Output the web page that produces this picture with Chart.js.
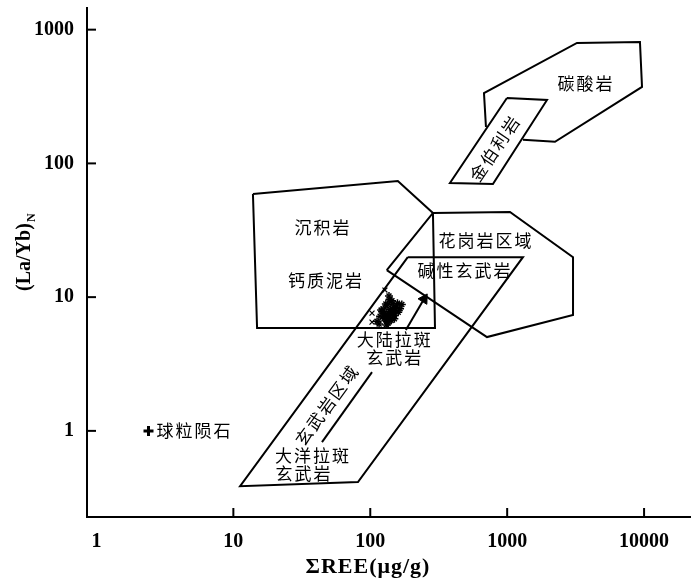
<!DOCTYPE html>
<html>
<head>
<meta charset="utf-8">
<script src="https://cdn.jsdelivr.net/npm/chart.js@4.4.0/dist/chart.umd.min.js"></script>
<style>
    html, body { margin: 0; padding: 0; background: #fff; }
    #wrap { width: 700px; height: 587px; }
</style>
</head>
<body>
<div id="wrap"><canvas id="myChart" width="700" height="587"></canvas></div>
<script>
// axis ticks
const xTicks = [1, 10, 100, 1000, 10000];
const yTicks = [1, 10, 100, 1000];

// field outlines (x = ΣREE, y = (La/Yb)N)
const carbonatiteX = [700, 677, 3235, 9330, 9660, 2234, 1304];
const carbonatiteY = [187, 336, 795, 809, 373, 145, 150];
const kimberliteX = [996, 1954, 787, 382, 996];
const kimberliteY = [308, 298, 70.2, 71.3, 308];
const sedimentX = [13.9, 159, 287, 297, 14.9, 13.9];
const sedimentY = [59.0, 73.9, 42.6, 5.87, 5.87, 59.0];
const graniteX = [132, 287, 1048, 3027, 3027, 712, 132];
const graniteY = [15.9, 42.6, 43.3, 19.9, 7.35, 5.03, 15.9];
const basaltX = [188, 1304, 81.3, 11.2, 188];
const basaltY = [19.9, 19.9, 0.414, 0.386, 19.9];
const innerLineX = [44.4, 103];
const innerLineY = [0.824, 2.75];
const arrowX = [182, 247];
const arrowY = [5.67, 9.68];

// samples
const sampleX = [118, 122, 126, 128, 130, 132, 134, 136, 138, 140, 142, 145, 148, 150, 152, 155, 158, 160,
                 126, 130, 134, 138, 142, 146, 150, 135, 140, 128, 144, 120, 112, 116, 165, 170, 137, 131];
const sampleY = [7.2, 7.8, 6.9, 8.3, 7.4, 6.6, 8.8, 7.6, 7.0, 8.1, 9.2, 7.5, 8.6, 6.9, 7.9, 8.4, 9.0, 7.7,
                 7.5, 8.9, 7.1, 9.6, 6.7, 8.0, 7.3, 6.4, 7.8, 7.0, 9.4, 8.0, 6.6, 6.3, 8.2, 8.8, 10.2, 6.2];
const sampleXmarkX = [103, 103, 128];
const sampleXmarkY = [7.6, 6.5, 11.3];
const chondriteX = [2.4];
const chondriteY = [1.0];

// field names
const labelText = ['碳酸岩', '金伯利岩', '沉积岩', '钙质泥岩', '花岗岩区域', '碱性玄武岩',
                   '大陆拉斑', '玄武岩', '玄武岩区域', '大洋拉斑', '玄武岩', '球粒陨石'];
const labelX = [3765, 815, 45.1, 47.5, 700, 492, 151, 151, 48.3, 38.1, 32.8, 2.75];
const labelY = [393, 130, 32.9, 13.2, 26.7, 15.9, 4.78, 3.56, 1.56, 0.659, 0.483, 1.0];
const labelAngle = [0, -56, 0, 0, 0, 0, 0, 0, -54, 0, 0, 0];
const labelAlign = ['center', 'center', 'center', 'center', 'center', 'center',
                    'center', 'center', 'center', 'center', 'center', 'left'];

function pts(xs, ys) {
    return xs.map((x, i) => ({ x: x, y: ys[i] }));
}

function outline(xs, ys) {
    return {
        data: pts(xs, ys),
        showLine: true,
        borderColor: '#000',
        borderWidth: 2,
        pointRadius: 0,
        fill: false,
        tension: 0,
        borderJoinStyle: 'miter'
    };
}

const cjkFont = '"Noto Sans CJK SC", "Noto Sans", sans-serif';
const serifFont = '"Liberation Serif", "DejaVu Serif", serif';

const decorPlugin = {
    id: 'decor',
    afterDraw(chart) {
        const ctx = chart.ctx;
        const xs = chart.scales.x;
        const ys = chart.scales.y;
        const area = chart.chartArea;
        ctx.save();
        ctx.strokeStyle = '#000';
        ctx.lineWidth = 2;
        // inward tick marks
        xTicks.forEach(v => {
            if (v === 1) return;
            const px = xs.getPixelForValue(v);
            ctx.beginPath();
            ctx.moveTo(px, area.bottom);
            ctx.lineTo(px, area.bottom - 9);
            ctx.stroke();
        });
        yTicks.forEach(v => {
            const py = ys.getPixelForValue(v);
            ctx.beginPath();
            ctx.moveTo(area.left, py);
            ctx.lineTo(area.left + 9, py);
            ctx.stroke();
        });

        // field labels
        ctx.fillStyle = '#000';
        ctx.font = '17px ' + cjkFont;
        ctx.textBaseline = 'middle';
        ctx.letterSpacing = '2px';
        labelText.forEach((t, i) => {
            const px = xs.getPixelForValue(labelX[i]);
            const py = ys.getPixelForValue(labelY[i]);
            ctx.save();
            ctx.translate(px, py);
            ctx.rotate(labelAngle[i] * Math.PI / 180);
            ctx.textAlign = labelAlign[i];
            ctx.fillText(t, 0, 0);
            ctx.restore();
        });

        // axis titles
        ctx.letterSpacing = '1px';
        ctx.font = 'bold 22px ' + serifFont;
        ctx.textAlign = 'center';
        ctx.textBaseline = 'middle';
        ctx.fillText('ΣREE(μg/g)', 368, 567);
        ctx.letterSpacing = '0px';

        ctx.save();
        ctx.font = 'bold 20px ' + serifFont;
        ctx.translate(25, 252);
        ctx.rotate(-Math.PI / 2);
        const main = '(La/Yb)';
        const w = ctx.measureText(main).width;
        ctx.textAlign = 'left';
        ctx.fillText(main, -w / 2 - 5, 0);
        ctx.font = 'bold 12px ' + serifFont;
        ctx.fillText('N', w / 2 - 4, 7);
        ctx.restore();

        ctx.restore();
    }
};

const ctx = document.getElementById('myChart').getContext('2d');
new Chart(ctx, {
    type: 'scatter',
    data: {
        datasets: [
            outline(carbonatiteX, carbonatiteY),
            outline(kimberliteX, kimberliteY),
            outline(sedimentX, sedimentY),
            outline(graniteX, graniteY),
            outline(basaltX, basaltY),
            outline(innerLineX, innerLineY),
            {
                data: pts(arrowX, arrowY),
                showLine: true,
                borderColor: '#000',
                borderWidth: 2,
                pointStyle: 'triangle',
                pointRadius: [0, 6],
                pointRotation: [0, 32],
                pointBackgroundColor: '#000',
                pointBorderColor: '#000',
                pointBorderWidth: 1
            },
            {
                data: pts(sampleX, sampleY),
                pointStyle: 'cross',
                pointRadius: 4,
                borderColor: '#000',
                borderWidth: 1.5
            },
            {
                data: pts(sampleX, sampleY),
                pointStyle: 'crossRot',
                pointRadius: 3.5,
                borderColor: '#000',
                borderWidth: 1.5
            },
            {
                data: pts(sampleXmarkX, sampleXmarkY),
                pointStyle: 'crossRot',
                pointRadius: 3.5,
                borderColor: '#000',
                borderWidth: 1.2
            },
            {
                data: pts(chondriteX, chondriteY),
                pointStyle: 'cross',
                pointRadius: 5,
                borderColor: '#000',
                borderWidth: 3
            }
        ]
    },
    options: {
        responsive: false,
        animation: false,
        devicePixelRatio: 1,
        layout: { padding: { top: 8, right: 10, left: 0, bottom: 0 } },
        plugins: {
            legend: { display: false },
            tooltip: { enabled: false }
        },
        scales: {
            x: {
                type: 'logarithmic',
                min: 0.853,
                max: 21650,
                grid: { display: false, drawTicks: false },
                border: { display: true, color: '#000', width: 2 },
                afterBuildTicks: scale => { scale.ticks = xTicks.map(v => ({ value: v })); },
                afterFit: scale => {
                    scale.height = 70;
                    scale.paddingLeft = 0;
                    scale.paddingRight = 0;
                },
                ticks: {
                    color: '#000',
                    padding: 13,
                    maxRotation: 0,
                    font: { family: serifFont, size: 20, weight: 'bold' },
                    callback: v => String(v)
                }
            },
            y: {
                type: 'logarithmic',
                min: 0.227,
                max: 1452,
                grid: { display: false, drawTicks: false },
                border: { display: true, color: '#000', width: 2 },
                afterBuildTicks: scale => { scale.ticks = yTicks.map(v => ({ value: v })); },
                afterFit: scale => {
                    scale.width = 87;
                    scale.paddingTop = 0;
                    scale.paddingBottom = 0;
                },
                ticks: {
                    color: '#000',
                    padding: 13,
                    font: { family: serifFont, size: 20, weight: 'bold' },
                    callback: v => String(v)
                }
            }
        }
    },
    plugins: [decorPlugin]
});
</script>
</body>
</html>
